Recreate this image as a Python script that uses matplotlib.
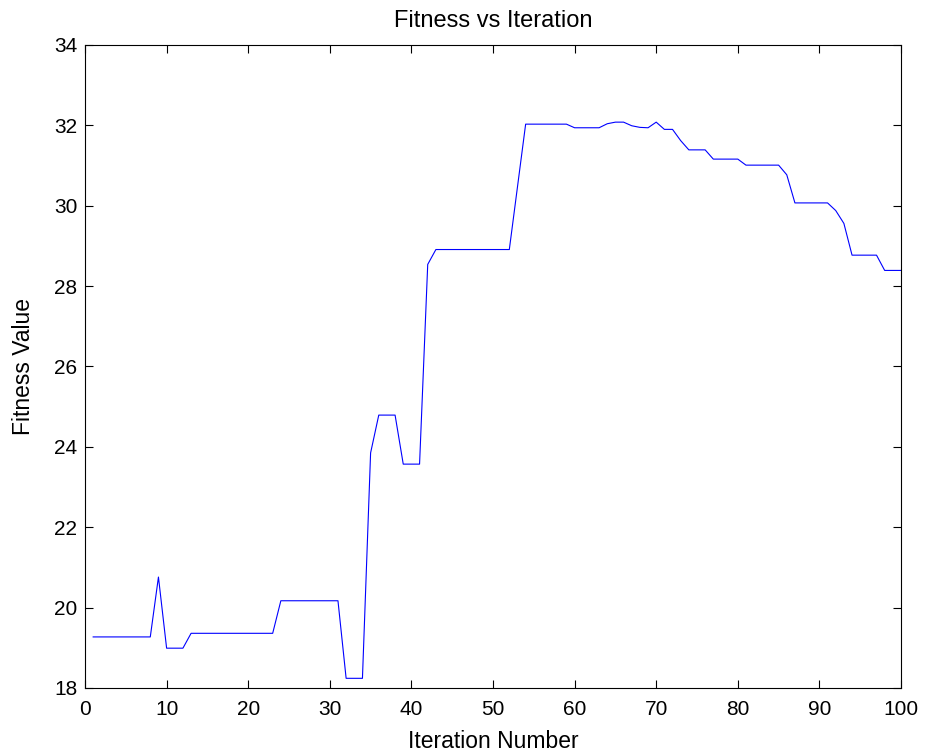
import matplotlib
matplotlib.use("Agg")
import matplotlib.pyplot as plt
import numpy as np

plt.rcParams['font.family'] = ['Liberation Sans', 'DejaVu Sans']

iteration = np.arange(1, 101)
fitness = [19.27, 19.27, 19.27, 19.27, 19.27, 19.27, 19.27, 19.27, 20.76, 18.99,
           18.99, 18.99, 19.36, 19.36, 19.36, 19.36, 19.36, 19.36, 19.36, 19.36,
           19.36, 19.36, 19.36, 20.17, 20.17, 20.17, 20.17, 20.17, 20.17, 20.17,
           20.17, 18.24, 18.24, 18.24, 23.85, 24.79, 24.79, 24.79, 23.57, 23.57,
           23.57, 28.54, 28.91, 28.91, 28.91, 28.91, 28.91, 28.91, 28.91, 28.91,
           28.91, 28.91, 30.47, 32.03, 32.03, 32.03, 32.03, 32.03, 32.03, 31.94,
           31.94, 31.94, 31.94, 32.04, 32.08, 32.08, 31.99, 31.95, 31.94, 32.08,
           31.90, 31.90, 31.62, 31.39, 31.39, 31.39, 31.16, 31.16, 31.16, 31.16,
           31.01, 31.01, 31.01, 31.01, 31.01, 30.77, 30.07, 30.07, 30.07, 30.07,
           30.07, 29.88, 29.56, 28.77, 28.77, 28.77, 28.77, 28.39, 28.39, 28.39]

fig = plt.figure(figsize=(9.26, 7.56), dpi=100)
ax = fig.add_axes([0.0918, 0.09, 0.8812, 0.8505])
ax.plot(iteration, fitness, color=(0, 0, 1), linewidth=0.8)

ax.set_xlim(0, 100)
ax.set_ylim(18, 34)
ax.set_xticks(np.arange(0, 101, 10))
ax.set_yticks(np.arange(18, 35, 2))
ax.tick_params(direction='in', top=True, right=True, length=6, width=0.8,
               labelsize=15)
ax.tick_params(axis='x', pad=8.5)
ax.tick_params(axis='y', pad=5.5)
for s in ax.spines.values():
    s.set_linewidth(0.8)

ax.set_title('Fitness vs Iteration', fontsize=17, pad=13)
ax.set_xlabel('Iteration Number', fontsize=16.5, labelpad=8)
ax.set_ylabel('Fitness Value', fontsize=16.5, labelpad=14)

fig.savefig('out.png', dpi=100)
